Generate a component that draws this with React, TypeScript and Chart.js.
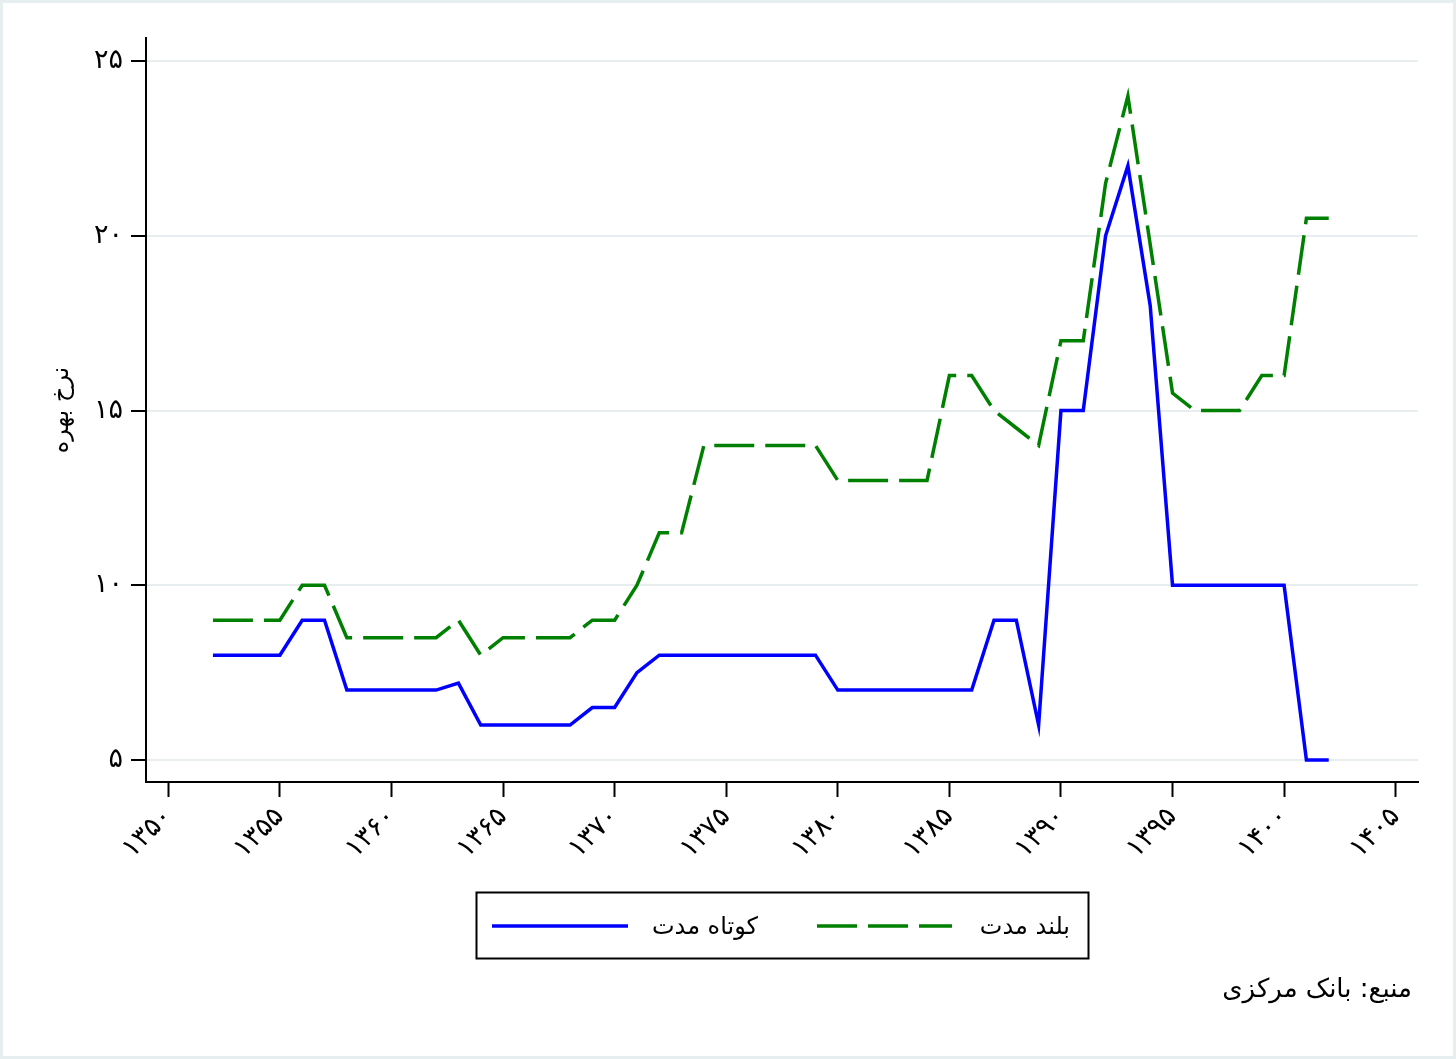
import React, { useEffect, useRef } from 'react';
import { Chart, registerables } from 'chart.js';

Chart.register(...registerables);

const years = [
  1352, 1353, 1354, 1355, 1356, 1357, 1358, 1359, 1360, 1361,
  1362, 1363, 1364, 1365, 1366, 1367, 1368, 1369, 1370, 1371,
  1372, 1373, 1374, 1375, 1376, 1377, 1378, 1379, 1380, 1381,
  1382, 1383, 1384, 1385, 1386, 1387, 1388, 1389, 1390, 1391,
  1392, 1393, 1394, 1395, 1396, 1397, 1398, 1399, 1400, 1401, 1402,
];

const shortTermRates = [
  8, 8, 8, 8, 9, 9, 7, 7, 7, 7,
  7, 7.2, 6, 6, 6, 6, 6, 6.5, 6.5, 7.5,
  8, 8, 8, 8, 8, 8, 8, 8, 7, 7,
  7, 7, 7, 7, 7, 9, 9, 6, 15, 15,
  20, 22, 18, 10, 10, 10, 10, 10, 10, 5, 5,
];

const longTermRates = [
  9, 9, 9, 9, 10, 10, 8.5, 8.5, 8.5, 8.5,
  8.5, 9, 8, 8.5, 8.5, 8.5, 8.5, 9, 9, 10,
  11.5, 11.5, 14, 14, 14, 14, 14, 14, 13, 13,
  13, 13, 13, 16, 16, 15, 14.5, 14, 17, 17,
  21.5, 24, 19.75, 15.5, 15, 15, 15, 16, 16, 20.5, 20.5,
];

const xTickValues = [1350, 1355, 1360, 1365, 1370, 1375, 1380, 1385, 1390, 1395, 1400, 1405];
const xTickLabels = ['۱۳۵۰', '۱۳۵۵', '۱۳۶۰', '۱۳۶۵', '۱۳۷۰', '۱۳۷۵', '۱۳۸۰', '۱۳۸۵', '۱۳۹۰', '۱۳۹۵', '۱۴۰۰', '۱۴۰۵'];
const yTickValues = [5, 10, 15, 20, 25];
const yTickLabels = ['۵', '۱۰', '۱۵', '۲۰', '۲۵'];

const seriesLabels = ['کوتاه مدت', 'بلند مدت'];
const yAxisTitle = 'نرخ بهره';
const sourceNote = 'منبع: بانک مرکزی';

const FONT = "'DejaVu Sans', sans-serif";
const W = 1456;
const H = 1059;

const framePlugin = {
  id: 'frame',
  beforeDraw(chart: any) {
    const ctx = chart.ctx;
    ctx.save();
    ctx.fillStyle = '#ffffff';
    ctx.fillRect(0, 0, chart.width, chart.height);
    ctx.strokeStyle = '#e6eef0';
    ctx.lineWidth = 3;
    ctx.strokeRect(1.5, 1.5, chart.width - 3, chart.height - 3);
    ctx.restore();
  },
};

const legendPlugin = {
  id: 'boxLegend',
  afterDraw(chart: any) {
    const ctx = chart.ctx;
    const area = chart.chartArea;
    const cx = (area.left + area.right) / 2;
    const boxW = 612;
    const boxH = 66;
    const boxL = Math.round(cx - boxW / 2);
    const boxT = area.bottom + 110;
    ctx.save();
    ctx.strokeStyle = '#000';
    ctx.lineWidth = 2;
    ctx.strokeRect(boxL + 0.5, boxT + 0.5, boxW, boxH);

    const items = [
      { lineStart: 16, lineEnd: 152, textRight: 282 },
      { lineStart: 341, lineEnd: 476, textRight: 594 },
    ];
    const midY = boxT + 34;
    chart.data.datasets.forEach((ds: any, i: number) => {
      const it = items[i];
      ctx.save();
      ctx.strokeStyle = ds.borderColor;
      ctx.lineWidth = ds.borderWidth;
      ctx.setLineDash(ds.borderDash || []);
      ctx.beginPath();
      ctx.moveTo(boxL + it.lineStart, midY);
      ctx.lineTo(boxL + it.lineEnd, midY);
      ctx.stroke();
      ctx.restore();
      ctx.fillStyle = '#000';
      ctx.font = `24px ${FONT}`;
      ctx.direction = 'rtl';
      ctx.textAlign = 'right';
      ctx.textBaseline = 'middle';
      ctx.fillText(ds.label, boxL + it.textRight, midY + 2);
    });

    ctx.fillStyle = '#000';
    ctx.font = `26px ${FONT}`;
    ctx.direction = 'rtl';
    ctx.textAlign = 'right';
    ctx.textBaseline = 'middle';
    ctx.fillText(sourceNote, chart.width - 44, area.bottom + 208);
    ctx.restore();
  },
};

export default function App() {
  const canvasRef = useRef<HTMLCanvasElement | null>(null);

  useEffect(() => {
    const canvas = canvasRef.current;
    if (!canvas) return;
    const chart = new Chart(canvas, {
      type: 'line',
      data: {
        datasets: [
          {
            label: seriesLabels[0],
            data: years.map((yr, i) => ({ x: yr, y: shortTermRates[i] })),
            borderColor: '#0000ff',
            backgroundColor: '#0000ff',
            borderWidth: 3.5,
            pointRadius: 0,
            tension: 0,
            fill: false,
          },
          {
            label: seriesLabels[1],
            data: years.map((yr, i) => ({ x: yr, y: longTermRates[i] })),
            borderColor: '#008000',
            backgroundColor: '#008000',
            borderWidth: 3.5,
            borderDash: [40, 11],
            pointRadius: 0,
            tension: 0,
            fill: false,
          },
        ],
      },
      options: {
        responsive: false,
        animation: false,
        devicePixelRatio: 1,
        layout: { padding: { left: 0, right: 38, top: 38, bottom: 177 } },
        plugins: {
          legend: { display: false },
          tooltip: { enabled: false },
          title: { display: false },
        },
        scales: {
          x: {
            type: 'linear',
            min: 1349,
            max: 1406,
            afterBuildTicks: (s: any) => {
              s.ticks = xTickValues.map((v) => ({ value: v }));
            },
            afterFit: (s: any) => {
              s.height = 100;
            },
            ticks: {
              autoSkip: false,
              minRotation: 45,
              maxRotation: 45,
              padding: 4,
              color: '#000',
              font: { family: FONT, size: 27 },
              callback: (v: any) => {
                const idx = xTickValues.indexOf(Number(v));
                return idx >= 0 ? xTickLabels[idx] : '';
              },
            },
            grid: {
              drawOnChartArea: false,
              tickLength: 15,
              tickColor: '#000',
              tickWidth: 2,
            },
            border: { color: '#000', width: 2 },
          },
          y: {
            type: 'linear',
            min: 4.37,
            max: 25.66,
            afterBuildTicks: (s: any) => {
              s.ticks = yTickValues.map((v) => ({ value: v }));
            },
            afterFit: (s: any) => {
              s.width = 146;
            },
            ticks: {
              padding: 8,
              color: '#000',
              font: { family: FONT, size: 27 },
              callback: (v: any) => {
                const idx = yTickValues.indexOf(Number(v));
                return idx >= 0 ? yTickLabels[idx] : '';
              },
            },
            grid: {
              color: '#e8eef0',
              lineWidth: 2,
              tickLength: 15,
              tickColor: '#000',
              tickWidth: 2,
            },
            border: { color: '#000', width: 2 },
            title: {
              display: true,
              text: yAxisTitle,
              color: '#000',
              font: { family: FONT, size: 24 },
              padding: { top: 47, bottom: 0 },
            },
          },
        },
      },
      plugins: [framePlugin, legendPlugin],
    } as any);
    return () => {
      chart.destroy();
    };
  }, []);

  return (
    <div style={{ position: 'absolute', left: 0, top: 0, width: W, height: H, background: '#fff' }}>
      <canvas ref={canvasRef} width={W} height={H} style={{ width: W, height: H, display: 'block' }} />
    </div>
  );
}
